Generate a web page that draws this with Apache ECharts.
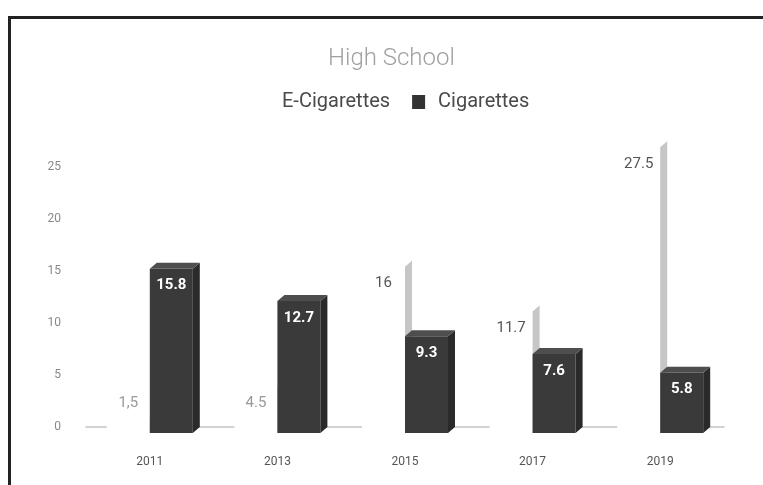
<!DOCTYPE html>
<html><head><meta charset="utf-8">
<script src="https://cdn.jsdelivr.net/npm/echarts@6/dist/echarts.min.js"></script>
<style>html,body{margin:0;padding:0;background:#fff}#c{width:763px;height:485px}</style>
</head><body><div id="c"></div>
<script>
const categories = ['2011', '2013', '2015', '2017', '2019'];
const eCigValues = [1.5, 4.5, 16, 11.7, 27.5];
const eCigLabels = ['1,5', '4.5', '16', '11.7', '27.5'];
const cigValues = [15.8, 12.7, 9.3, 7.6, 5.8];
const cigLabels = ['15.8', '12.7', '9.3', '7.6', '5.8'];
const yMax = 30, yInterval = 5;

const chart = echarts.init(document.getElementById('c'));

function makeRender(side, colors, labels, labelColor, labelWeight) {
  return function (params, api) {
    const idx = api.value(0), val = api.value(1);
    const top = api.coord([idx, val]);
    const base = api.coord([idx, 0]);
    const band = api.size([1, 0])[0];
    const w = band * 0.337;
    const dx = 7, dy = 6;
    const x0 = side < 0 ? top[0] - w : top[0];
    const x1 = x0 + w;
    const ty = top[1], by = base[1];
    const h = by - ty;
    const small = h < 30;
    const labelY = small ? ty + dy - 14 : ty + dy + 17;
    const lc = typeof labelColor === 'function' ? labelColor(h) : labelColor;
    return {
      type: 'group',
      children: [
        { type: 'rect', shape: { x: x0, y: ty + dy, width: w, height: h }, style: { fill: colors[0] } },
        { type: 'polygon', shape: { points: [[x1, ty + dy], [x1 + dx, ty], [x1 + dx, by], [x1, by + dy]] }, style: { fill: colors[1] } },
        { type: 'polygon', shape: { points: [[x0, ty + dy], [x0 + dx, ty], [x1 + dx, ty], [x1, ty + dy]] }, style: { fill: colors[2] } },
        { type: 'text', style: { text: labels[params.dataIndex], x: x0 + w / 2, y: labelY, textAlign: 'center', textVerticalAlign: 'middle', fill: lc, font: labelWeight + ' 15px Roboto, sans-serif' } }
      ]
    };
  };
}

chart.setOption({
  animation: false,
  backgroundColor: '#fff',
  title: {
    text: 'High School', left: 323, top: 42,
    textStyle: { color: '#a0a0a0', fontSize: 24, fontWeight: 300, fontFamily: 'Roboto' }
  },
  legend: {
    top: 87, left: 251, itemWidth: 13, itemHeight: 14, itemGap: 22,
    icon: 'rect',
    textStyle: { color: '#4a4a4a', fontSize: 20, fontFamily: 'Roboto', padding: [0, 0, 0, 8] },
    data: ['E-Cigarettes', 'Cigarettes']
  },
  grid: { left: 86, right: 39, top: 115, bottom: 58 },
  xAxis: {
    type: 'category', data: categories,
    axisLine: { lineStyle: { color: '#c4c4c4', width: 1.5 } },
    axisTick: { show: false },
    axisLabel: { color: '#555', fontSize: 12, margin: 29, fontFamily: 'Roboto' }
  },
  yAxis: {
    type: 'value', min: 0, max: yMax, interval: yInterval,
    splitLine: { show: false },
    axisLine: { show: false }, axisTick: { show: false },
    axisLabel: { color: '#888', fontSize: 12, margin: 25, fontFamily: 'Roboto',
      formatter: v => (v === yMax ? '' : String(v)) }
  },
  series: [
    {
      name: 'E-Cigarettes', type: 'custom', itemStyle: { color: '#ffffff' },
      encode: { x: 0, y: 1 },
      data: eCigValues.map((v, i) => [i, v]),
      renderItem: makeRender(-1, ['#ffffff', '#c6c6c6', '#ffffff'], eCigLabels, h => (h < 60 ? '#999' : '#555'), 'normal'),
      z: 2
    },
    {
      name: 'Cigarettes', type: 'custom', itemStyle: { color: '#333' },
      encode: { x: 0, y: 1 },
      data: cigValues.map((v, i) => [i, v]),
      renderItem: makeRender(1, ['#3a3a3a', '#2a2a2a', '#4e4e4e'], cigLabels, '#fff', 'bold'),
      z: 3
    }
  ],
  graphic: [
    { type: 'rect', shape: { x: 8, y: 16, width: 760, height: 3 }, style: { fill: '#222' }, silent: true },
    { type: 'rect', shape: { x: 8, y: 16, width: 3, height: 475 }, style: { fill: '#222' }, silent: true }
  ]
});
</script></body></html>
